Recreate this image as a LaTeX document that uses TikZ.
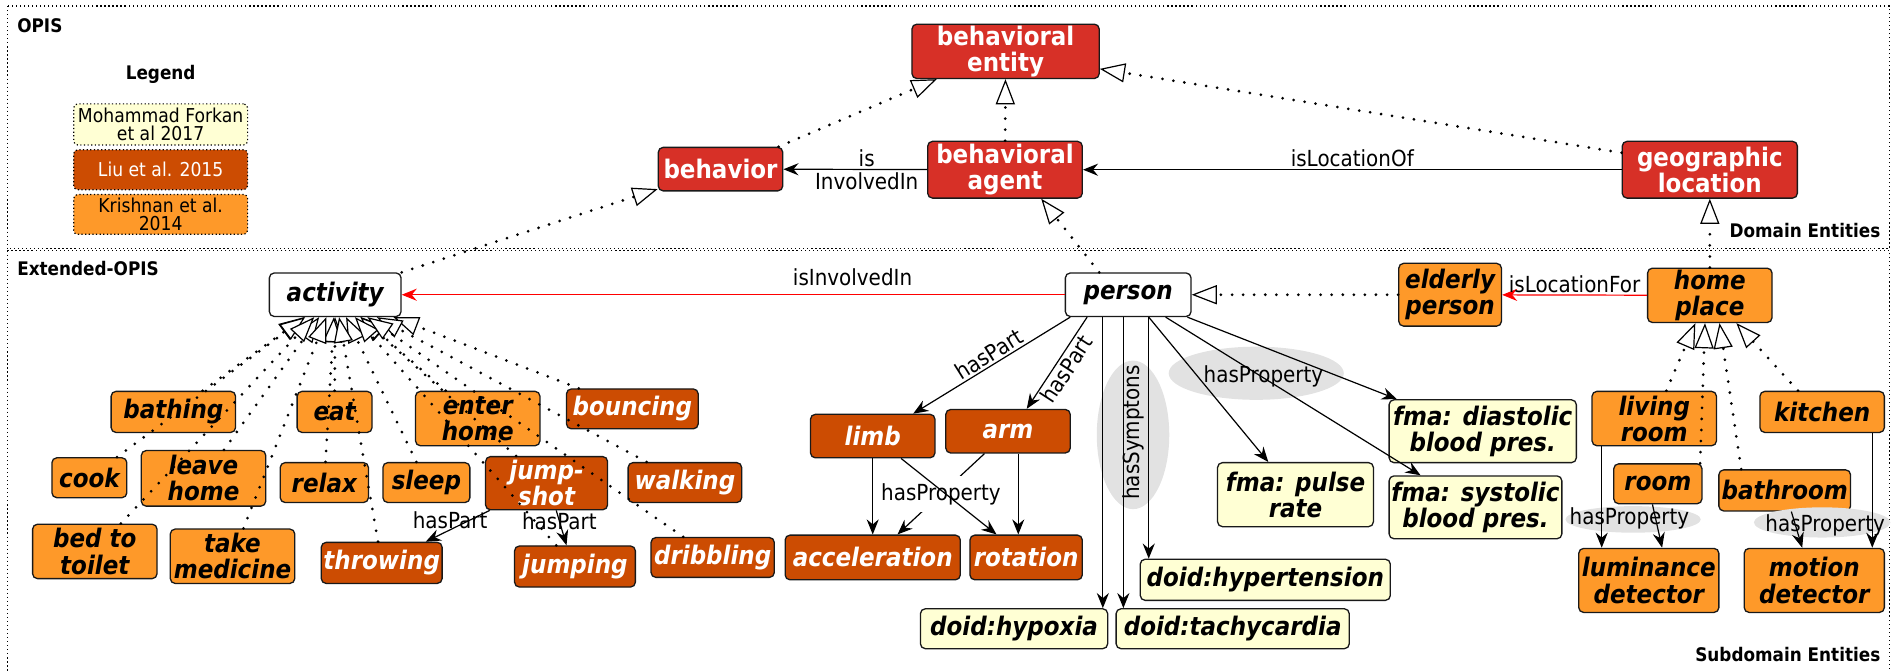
\documentclass[tikz,border=0pt]{standalone}
\usepackage{fontspec}
\setmainfont{DejaVu Sans}[FakeStretch=0.9]
\usetikzlibrary{arrows.meta,shapes.geometric}
\definecolor{cred}{HTML}{D73027}
\definecolor{cdk}{HTML}{CC4C02}
\definecolor{cor}{HTML}{FE9929}
\definecolor{cyl}{HTML}{FFFFD4}
\definecolor{cgray}{HTML}{E2E2E2}
\begin{document}
\begin{tikzpicture}[x=0.6pt,y=-0.6pt,
  u/.style 2 args={minimum width=#1*0.6pt, minimum height=#2*0.6pt},
  box/.style={draw=black!90, line width=0.65pt, rounded corners=2.4pt, inner sep=0pt, align=center},
  nfont/.style={font=\fontsize{12.7}{13}\selectfont\bfseries\itshape},
  redbox/.style={box, fill=cred, text=white, font=\fontsize{12.7}{13}\selectfont\bfseries},
  orbox/.style={box, fill=cor, text=black, nfont},
  dkbox/.style={box, fill=cdk, text=white, nfont},
  ylbox/.style={box, fill=cyl, text=black, nfont},
  whbox/.style={box, fill=white, text=black, nfont},
  legbox/.style={draw, line width=0.6pt, dash pattern=on 0.6pt off 1.2pt, rounded corners=2pt, inner sep=0pt, align=center, font=\fontsize{9.5}{9.2}\selectfont},
  frame/.style={draw, line width=0.6pt, dash pattern=on 0.6pt off 1.4pt},
  head/.style={font=\fontsize{9.3}{10}\selectfont\bfseries, inner sep=0pt},
  lbl/.style={font=\fontsize{11}{11.6}\selectfont, inner sep=1pt, align=center},
  inh/.style={line width=1.5pt, dash pattern=on 0pt off 5.5pt, line cap=round, -{Triangle[fill=white, line width=0.6pt, length=12.5pt, width=9.5pt]}},
  arr/.style={line width=0.6pt, -{Stealth[length=7.5pt, width=6pt, inset=2.5pt]}},
  redarr/.style={arr, draw=red},
]
\useasboundingbox (0,0) rectangle (1568,556);
% frames
\draw[frame] (6,5) rectangle (1564,206);
\draw[frame] (6,207.5) rectangle (1564,560);
\node[head, anchor=west] (hOPIS) at (14,21.5) {OPIS};
\node[head] (hLeg) at (133,61.5) {Legend};
\node[head, anchor=east] (hDom) at (1557,191) {Domain Entities};
\node[head, anchor=west] (hExt) at (14,222.5) {Extended-OPIS};
\node[head, anchor=east] (hSub) at (1557,542) {Subdomain Entities};
% legend
\node[legbox, fill=cyl, u={144}{34}] (lg1) at (133,103) {Mohammad Forkan\\et al 2017};
\node[legbox, fill=cdk, text=white, u={144}{33}] (lg2) at (133,140.5) {Liu et al. 2015};
\node[legbox, fill=cor, u={144}{33}] (lg3) at (133,177.5) {Krishnan et al.\\2014};
% domain nodes
\node[redbox, u={155}{45}] (ent) at (832.5,42.5) {behavioral\\entity};
\node[redbox, u={103}{36}] (beh) at (596.5,140) {behavior};
\node[redbox, u={128}{47}] (agent) at (832,140.5) {behavioral\\agent};
\node[redbox, u={145}{47}] (geo) at (1415.5,140.5) {geographic\\location};
% extended nodes
\node[whbox, u={109}{36}] (act) at (277.5,244) {activity};
\node[whbox, u={104}{36}] (per) at (934,244) {person};
\node[orbox, u={85}{52}] (eld) at (1200.5,244) {elderly\\person};
\node[orbox, u={103}{45}] (home) at (1415.5,244.5) {home\\place};
% activity children
\node[orbox, u={103}{34}] (bathing) at (143.5,341) {bathing};
\node[orbox, u={62}{34}] (eat) at (277,341) {eat};
\node[orbox, u={103}{45}] (enter) at (395.5,346.5) {enter\\home};
\node[dkbox, u={109}{33}] (bouncing) at (523.5,338.5) {bouncing};
\node[orbox, u={62}{33}] (cook) at (74,395.5) {cook};
\node[orbox, u={103}{46}] (leave) at (168.5,396) {leave\\home};
\node[orbox, u={73}{33}] (relax) at (268.5,399.5) {relax};
\node[orbox, u={72}{33}] (sleep) at (353,399.5) {sleep};
\node[dkbox, u={101}{44}] (jumpshot) at (452.5,400) {jump-\\shot};
\node[dkbox, u={94}{33}] (walking) at (567,399.5) {walking};
\node[orbox, u={103}{45}] (bedtoilet) at (78.5,456.5) {bed to\\toilet};
\node[orbox, u={103}{45}] (takemed) at (192.5,460.5) {take\\medicine};
\node[dkbox, u={100}{34}] (throwing) at (316,466) {throwing};
\node[dkbox, u={100}{34}] (jumping) at (476,469) {jumping};
\node[dkbox, u={102}{33}] (dribbling) at (590,461.5) {dribbling};
% person children
\node[dkbox, u={103}{36}] (limb) at (722.5,361) {limb};
\node[dkbox, u={103}{36}] (arm) at (834.5,357) {arm};
\node[dkbox, u={145}{37}] (accel) at (722.5,461.5) {acceleration};
\node[dkbox, u={93}{37}] (rot) at (849.5,461.5) {rotation};
\node[ylbox, u={129}{53}] (pulse) at (1072.5,409.5) {fma: pulse\\rate};
\node[ylbox, u={155}{52}] (dias) at (1227.5,357) {fma: diastolic\\blood pres.};
\node[ylbox, u={143}{52}] (sys) at (1221.5,420) {fma: systolic\\blood pres.};
\node[ylbox, u={207}{34}] (hyper) at (1047.5,480) {doid:hypertension};
\node[ylbox, u={155}{33}] (hypox) at (839.5,520.5) {doid:hypoxia};
\node[ylbox, u={193}{33}] (tachy) at (1020.5,520.5) {doid:tachycardia};
% home children
\node[orbox, u={103}{45}] (living) at (1369.5,346.5) {living\\room};
\node[orbox, u={103}{34}] (kitchen) at (1508.5,341) {kitchen};
\node[orbox, u={73}{33}] (room) at (1372.5,400.5) {room};
\node[orbox, u={109}{34}] (bath) at (1477.5,406) {bathroom};
\node[orbox, u={116}{53}] (lum) at (1365,480.5) {luminance\\detector};
\node[orbox, u={116}{53}] (motion) at (1502,480.5) {motion\\detector};
% gray label backgrounds
\fill[cgray] (938,360) ellipse [x radius=30, y radius=61.5];
\fill[cgray] (1040,309) ellipse [x radius=72.5, y radius=22];
\fill[cgray] (1352,430) ellipse [x radius=56, y radius=11];
\fill[cgray] (1508.5,432.5) ellipse [x radius=56.5, y radius=12.5];
% domain edges
\draw[inh] ([shift={(-4,0)}]beh.north east) -- ([shift={(21,0)}]ent.south west);
\draw[inh] (agent) -- (ent);
\draw[inh] ([shift={(0,10)}]geo.north west) -- ([shift={(0,14.5)}]ent.east);
\draw[arr] (agent) -- node[lbl, pos=0.42] (lInv) {is\\InvolvedIn} (beh);
\draw[arr] (geo) -- node[lbl, above, pos=0.5] (lLoc) {isLocationOf} (agent);
\draw[inh] (act.north east) -- ([shift={(0,-2)}]beh.south west);
\draw[inh] ([shift={(-24,0)}]per.north) -- ([shift={(30,0)}]agent.south);
\draw[inh] (home) -- (geo);
% extended edges
\draw[redarr] (per) -- node[lbl, above=3pt, pos=0.32] (lInv2) {isInvolvedIn} (act);
\draw[inh] (eld) -- (per);
\draw[redarr] (home) -- node[lbl, above, pos=0.5] (lLocFor) {isLocationFor} (eld);
\foreach \c in {bathing,eat,enter,bouncing,cook,leave,relax,sleep,jumpshot,walking,bedtoilet,takemed,throwing,jumping,dribbling}
  \draw[inh] (\c) -- (act);
\draw[arr] ([shift={(4,0)}]jumpshot.south west) -- node[lbl, pos=0.62, anchor=south, inner sep=0pt] (lhp1) {hasPart} ([shift={(87,0)}]throwing.north west);
\draw[arr] ([shift={(8,0)}]jumpshot.south) -- node[lbl, pos=0.3, inner sep=0pt] (lhp2) {hasPart} ([shift={(-7,0)}]jumping.north);
% person edges
\draw[arr] ([shift={(-48,0)}]per.south) -- node[lbl, pos=0.48, rotate=32, anchor=south] (lhp3) {hasPart} ([shift={(33.5,0)}]limb.north);
\draw[arr] ([shift={(-34,0)}]per.south) -- node[lbl, pos=0.5, rotate=57, anchor=north] (lhp4) {hasPart} ([shift={(15.5,0)}]arm.north);
\draw[arr] ([shift={(-21,0)}]per.south) -- ([shift={(73.5,0)}]hypox.north);
\draw[arr] ([shift={(-4,0)}]per.south) -- ([shift={(-90.5,0)}]tachy.north);
\draw[arr] ([shift={(17,0)}]per.south) -- ([shift={(-96.5,0)}]hyper.north);
\draw[arr] ([shift={(17,0)}]per.south) -- ([shift={(-22.5,0)}]pulse.north);
\draw[arr] ([shift={(31,0)}]per.south) -- ([shift={(-45.5,0)}]sys.north);
\draw[arr] ([shift={(49,0)}]per.south) -- ([shift={(7,0)}]dias.north west);
\draw[arr] (limb) -- (accel);
\draw[arr] ([shift={(8.5,0)}]arm.south) -- ([shift={(-6.5,0)}]rot.north);
\draw[arr] ([shift={(-19.5,0)}]arm.south) -- node[lbl, pos=0.5, fill=white, inner sep=3.5pt] (lhprop) {hasProperty} ([shift={(20.5,0)}]accel.north);
\draw[arr] ([shift={(23.5,0)}]limb.south) -- ([shift={(-24.5,0)}]rot.north);
% home edges
\draw[inh] ([shift={(10,0)}]living.north) -- ([shift={(-12,0)}]home.south);
\draw[inh] ([shift={(35,0)}]room.north) -- ([shift={(-4,0)}]home.south);
\draw[inh] ([shift={(-36,0)}]bath.north) -- ([shift={(8,0)}]home.south);
\draw[inh] ([shift={(-20,0)}]kitchen.north) -- ([shift={(22,0)}]home.south);
\draw[arr] ([shift={(-43.5,0)}]living.south) -- ([shift={(-39,0)}]lum.north);
\draw[arr] ([shift={(-4.5,0)}]room.south) -- ([shift={(11,0)}]lum.north);
\draw[arr] ([shift={(5.5,0)}]bath.south) -- ([shift={(-10,0)}]motion.north);
\draw[arr] ([shift={(41.5,0)}]kitchen.south) -- ([shift={(48,0)}]motion.north);
% labels on gray backgrounds
\node[lbl, rotate=90] (lsym) at (938,358) {hasSymptons};
\node[lbl] (lprop1) at (1046,312) {hasProperty};
\node[lbl] (lprop2) at (1349,429) {hasProperty};
\node[lbl] (lprop3) at (1511,435) {hasProperty};
\end{tikzpicture}
\end{document}
